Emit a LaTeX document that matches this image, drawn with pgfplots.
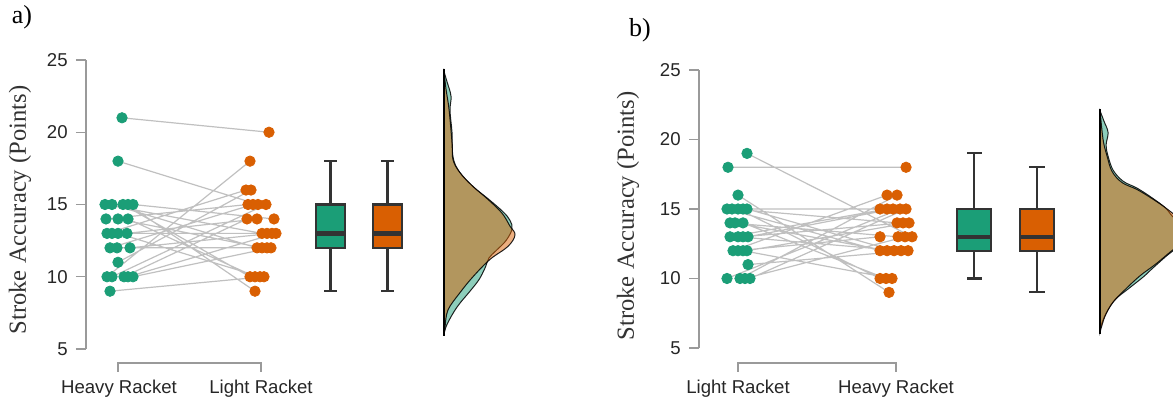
\documentclass[border=0pt]{standalone}
\usepackage{fontspec}
\setmainfont{Liberation Serif}
\setsansfont{Liberation Sans}
\usepackage{pgfplots}
\pgfplotsset{compat=1.18}
\definecolor{cgreen}{HTML}{1B9E77}
\definecolor{corange}{HTML}{D95F02}
\definecolor{axgray}{HTML}{9A9A9A}
\definecolor{linegray}{HTML}{C0C0C0}
\definecolor{boxdark}{HTML}{333333}
\pgfplotsset{
 rain/.style={
  scale only axis, clip mode=individual,
  axis x line=none, axis y line*=left,
  ymin=5, ymax=25, ytick={5,10,15,20,25},
  y axis line style={axgray, line width=0.6pt},
  ytick style={axgray, line width=0.6pt},
  tick align=outside, major tick length=5pt,
  yticklabel style={font=\sffamily\fontsize{9.3}{11}\selectfont, text=black!85, inner sep=0pt, xshift=-4pt},
  /pgf/number format/assume math mode=true,
 },
 pairs/.style={linegray, line width=0.6pt, unbounded coords=jump},
 dotsg/.style={only marks, mark=*, mark size=2.6pt, color=cgreen},
 dotso/.style={only marks, mark=*, mark size=2.6pt, color=corange},
 whisk/.style={boxdark, line width=1.1pt, unbounded coords=jump},
 boxr/.style={fill=#1, draw=boxdark, line width=1.1pt},
 med/.style={boxdark, line width=2.2pt},
 dens/.style={fill=#1, fill opacity=0.5, draw=black, draw opacity=0.85, line width=0.5pt, smooth, tension=0.6},
}
\begin{document}
\begin{tikzpicture}[x=1pt,y=1pt]
\useasboundingbox (0,0) rectangle (586.5,200.5);
% ---------------- panel a
\begin{axis}[rain, at={(43pt,26pt)}, anchor=south west, width=217pt, height=144.5pt, xmin=86, xmax=520]
\addplot[pairs] coordinates {
(122,21) (269,20) (nan,nan)
(118,18) (258,15) (nan,nan)
(105,15) (262,13) (nan,nan)
(112,15) (257,12) (nan,nan)
(123,15) (250,10) (nan,nan)
(128,15) (255,9) (nan,nan)
(133,15) (274,14) (nan,nan)
(106,14) (248,15) (nan,nan)
(118,14) (262,12) (nan,nan)
(128,14) (255,10) (nan,nan)
(107,13) (246,16) (nan,nan)
(112,13) (267,13) (nan,nan)
(118,13) (260,10) (nan,nan)
(127,13) (257,14) (nan,nan)
(110,12) (253,15) (nan,nan)
(117,12) (267,12) (nan,nan)
(130,12) (272,13) (nan,nan)
(118,11) (251,16) (nan,nan)
(107,10) (250,18) (nan,nan)
(112,10) (266,15) (nan,nan)
(124,10) (247,14) (nan,nan)
(128,10) (276,13) (nan,nan)
(133,10) (271,12) (nan,nan)
(110,9) (264,10)
};
\addplot[dotsg] coordinates {
(122,21) (118,18)
(105,15) (112,15) (123,15) (128,15) (133,15)
(106,14) (118,14) (128,14)
(107,13) (112,13) (118,13) (127,13)
(110,12) (117,12) (130,12)
(118,11)
(107,10) (112,10) (124,10) (128,10) (133,10)
(110,9)
};
\addplot[dotso] coordinates {
(269,20) (250,18) (246,16) (251,16)
(248,15) (253,15) (258,15) (266,15)
(247,14) (257,14) (274,14)
(262,13) (267,13) (272,13) (276,13)
(257,12) (262,12) (267,12) (271,12)
(250,10) (255,10) (260,10) (264,10)
(255,9)
};
% boxplots: whiskers 9-18, box 12-15, median 13
\addplot[whisk] coordinates {(330.5,9) (330.5,18) (nan,nan) (324,18) (337,18) (nan,nan) (324,9) (337,9)};
\addplot[boxr=cgreen] coordinates {(316,12) (345,12) (345,15) (316,15)} -- cycle;
\addplot[med] coordinates {(316.5,13) (344.5,13)};
\addplot[whisk] coordinates {(387.5,9) (387.5,18) (nan,nan) (381,18) (394,18) (nan,nan) (381,9) (394,9)};
\addplot[boxr=corange] coordinates {(373,12) (402,12) (402,15) (373,15)} -- cycle;
\addplot[med] coordinates {(373.5,13) (401.5,13)};
\addplot[dens=cgreen] coordinates {
(444,24.2) (447,23.5) (451,22.5) (450,21.5) (452,20) (453,18.3) (459,17.3) (472,16.3) (488,15.4) (503,14.5) (510,13.9) (512,13.3) (506,12.5) (496,11.8) (489,11.3) (485,10.6) (479,9.8) (470,9.0) (457,7.9) (447,6.7) (444,6.0)
} -- cycle;
\addplot[dens=corange] coordinates {
(444,24.2) (446,23) (449,21.6) (452,19.3) (453,18.1) (460,17.2) (473,16.25) (488,15.35) (502,14.4) (510,13.5) (515,12.9) (508,12.1) (490,11.2) (473,10.0) (460,8.9) (448,7.7) (445,6.5) (444,6.0)
} -- cycle;
\addplot[black, line width=0.7pt] coordinates {(444,24.4) (444,5.9)};
\end{axis}
% ---------------- panel b
\begin{axis}[rain, at={(349.5pt,26.5pt)}, anchor=south west, width=237pt, height=139pt, xmin=699, xmax=1173]
\addplot[pairs] coordinates {
(747,19) (912,13) (nan,nan)
(728,18) (906,18) (nan,nan)
(738,16) (889,9) (nan,nan)
(727,15) (880,12) (nan,nan)
(732,15) (897,14) (nan,nan)
(738,15) (880,10) (nan,nan)
(743,15) (880,15) (nan,nan)
(747,15) (894,12) (nan,nan)
(730,14) (898,13) (nan,nan)
(735,14) (887,12) (nan,nan)
(743,14) (886,10) (nan,nan)
(730,13) (887,15) (nan,nan)
(738,13) (901,12) (nan,nan)
(743,13) (903,14) (nan,nan)
(748,13) (893,15) (nan,nan)
(733,12) (887,16) (nan,nan)
(738,12) (880,13) (nan,nan)
(743,12) (892,10) (nan,nan)
(747,12) (909,14) (nan,nan)
(748,11) (908,12) (nan,nan)
(727,10) (900,15) (nan,nan)
(740,10) (897,16) (nan,nan)
(745,10) (905,13) (nan,nan)
(750,10) (906,15)
};
\addplot[dotsg] coordinates {
(747,19) (728,18) (738,16)
(727,15) (732,15) (738,15) (743,15) (747,15)
(730,14) (735,14) (743,14)
(730,13) (738,13) (743,13) (748,13)
(733,12) (738,12) (743,12) (747,12)
(748,11)
(727,10) (740,10) (745,10) (750,10)
};
\addplot[dotso] coordinates {
(906,18) (887,16) (897,16)
(880,15) (887,15) (893,15) (900,15) (906,15)
(897,14) (903,14) (909,14)
(880,13) (898,13) (905,13) (912,13)
(880,12) (887,12) (894,12) (901,12) (908,12)
(880,10) (886,10) (892,10)
(889,9)
};
% boxplots
\addplot[whisk] coordinates {(974,10) (974,19) (nan,nan) (967,19) (982,19) (nan,nan) (967,10) (982,10)};
\addplot[boxr=cgreen] coordinates {(957,12) (991,12) (991,15) (957,15)} -- cycle;
\addplot[med] coordinates {(957.5,13) (990.5,13)};
\addplot[whisk] coordinates {(1037,9) (1037,18) (nan,nan) (1029,18) (1045,18) (nan,nan) (1029,9) (1045,9)};
\addplot[boxr=corange] coordinates {(1020,12) (1054,12) (1054,15) (1020,15)} -- cycle;
\addplot[med] coordinates {(1020.5,13) (1053.5,13)};
\addplot[dens=cgreen] coordinates {
(1100,22.05) (1104,21.3) (1108,20.5) (1106,19.6) (1108,18.8) (1113,17.8) (1123,17.0) (1137,16.5) (1152,15.8) (1165,15.1) (1172,14.5) (1182,13.8) (1186,13.0) (1178,12.3) (1166,11.6) (1152,10.7) (1143,10.1) (1129,9.3) (1114,8.4) (1104,7.2) (1100,6.3)
} -- cycle;
\addplot[dens=corange] coordinates {
(1100,22.05) (1103,20.0) (1107,18.8) (1112,17.7) (1122,16.9) (1137,16.4) (1153,15.7) (1167,15.0) (1178,14.3) (1185,13.3) (1180,12.5) (1170,11.9) (1155,11.0) (1140,10.2) (1125,9.2) (1113,8.3) (1105,7.3) (1100,6.15)
} -- cycle;
\addplot[black, line width=0.7pt] coordinates {(1100,22.2) (1100,6.0)};
\end{axis}
% ---------------- decorations
\draw[axgray, line width=0.6pt] (59,14.5) -- (59,19) -- (130.5,19) -- (130.5,14.5);
\draw[axgray, line width=0.6pt] (369,14.5) -- (369,19) -- (448,19) -- (448,14.5);
\begin{scope}[every node/.style={font=\sffamily\fontsize{9.3}{11}\selectfont, text=black!85, inner sep=0pt}]
\node at (59.5,6) {Heavy Racket};
\node at (130.5,6) {Light Racket};
\node at (369,6) {Light Racket};
\node at (448,6) {Heavy Racket};
\end{scope}
\node[rotate=90, font=\fontsize{12.3}{14}\selectfont, text=black!80, inner sep=0pt] at (10,95.5) {Stroke Accuracy (Points)};
\node[rotate=90, font=\fontsize{12.3}{14}\selectfont, text=black!80, inner sep=0pt] at (314,92.5) {Stroke Accuracy (Points)};
\node[font=\fontsize{13}{15}\selectfont, inner sep=0pt] at (11,192) {a)};
\node[font=\fontsize{13}{15}\selectfont, inner sep=0pt] at (320,185.5) {b)};
\end{tikzpicture}
\end{document}
